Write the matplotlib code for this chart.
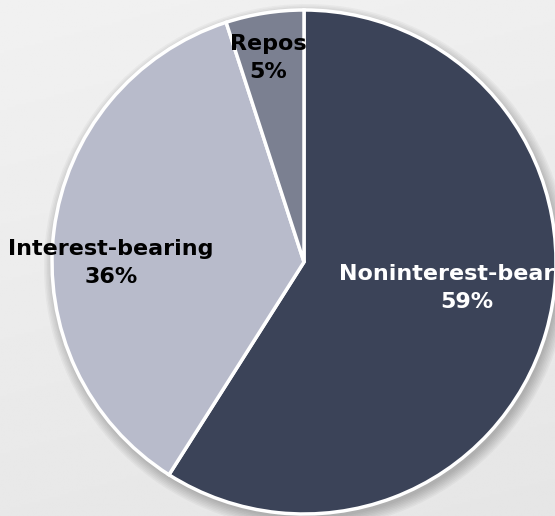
import numpy as np
import matplotlib
matplotlib.use('Agg')
from matplotlib import pyplot as plt
from matplotlib.patches import Circle

labels = ['Noninterest-bearing', 'Interest-bearing', 'Repos']
shares = [59, 36, 5]
colors = ['#3b4358', '#b8bbcb', '#7b8091']
text_colors = ['white', 'black', 'black']
# where each label block sits (data units, pie radius = 1)
label_pos = [(0.645, -0.105), (-0.765, -0.005), (-0.143, 0.81)]

fig = plt.figure(figsize=(5.55, 5.16), dpi=100)
ax = fig.add_axes([0, 0, 1, 1])
xlim = (-304 / 252, 251 / 252)
ylim = (-254 / 252, 262 / 252)

# soft grey background
yy, xx = np.mgrid[0:1:200j, 0:1:200j]
bg = 0.945 - 0.035 * yy - 0.01 * xx
ax.imshow(bg, cmap='gray', vmin=0, vmax=1, extent=(*xlim, *ylim),
          origin='upper', aspect='auto', zorder=0)

# drop shadow
for i in range(8):
    ax.add_patch(Circle((0.010, -0.018), 1.0 + 0.006 * i, color='black',
                        alpha=0.03, lw=0, zorder=1))

wedges, _ = ax.pie(shares, colors=colors, startangle=90, counterclock=False,
                   radius=1.0, wedgeprops=dict(edgecolor='white', linewidth=2.5))
for w in wedges:
    w.set_zorder(2)

for lab, val, pos, tc in zip(labels, shares, label_pos, text_colors):
    ax.text(pos[0], pos[1], f'{lab}\n{val}%', ha='center', va='center',
            color=tc, fontsize=16, fontweight='bold', linespacing=1.5,
            family='DejaVu Sans', zorder=3)

ax.set_xlim(*xlim)
ax.set_ylim(*ylim)
ax.set_aspect('auto')
ax.axis('off')
fig.savefig('out.png', dpi=100)
